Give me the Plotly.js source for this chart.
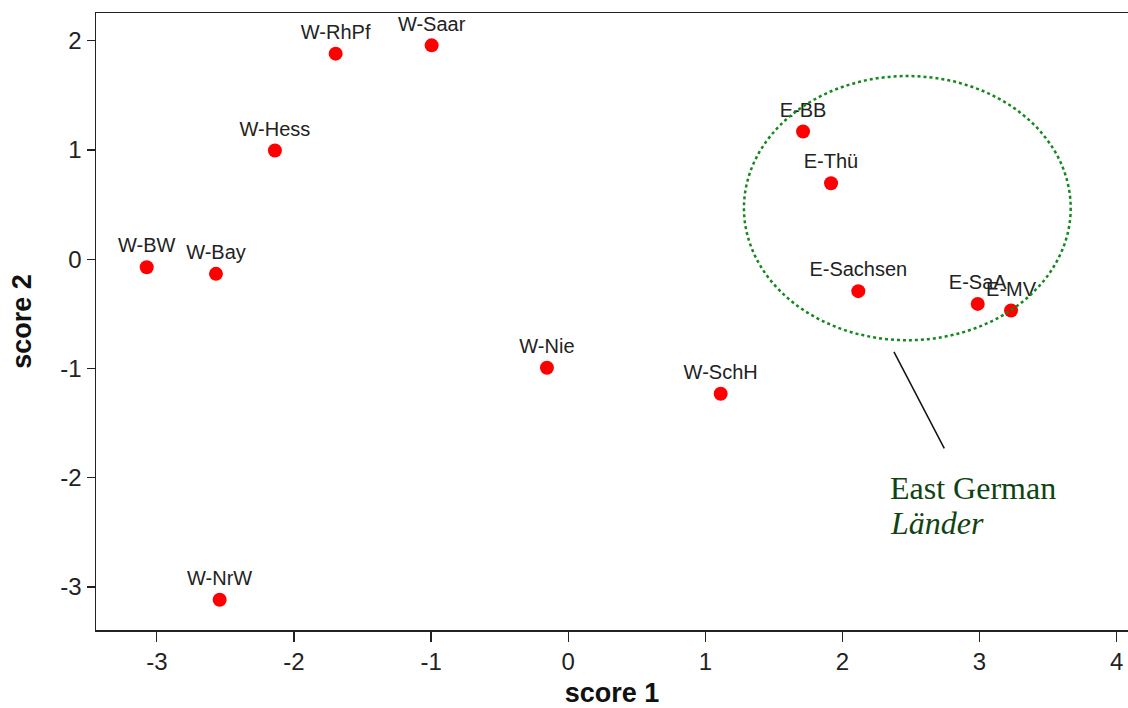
<!DOCTYPE html>
<html>
<head>
<meta charset="utf-8">
<script src="https://cdn.plot.ly/plotly-3.0.1.min.js"></script>
<style>
html,body{margin:0;padding:0;background:#fff;}
#chart{width:1128px;height:708px;}
</style>
</head>
<body>
<div id="chart"></div>
<script>
// Data
const labels = ["W-RhPf","W-Saar","W-Hess","W-BW","W-Bay","W-NrW","W-Nie","W-SchH","E-BB","E-Thü","E-Sachsen","E-SaA","E-MV"];
const score1 = [-1.696,-0.996,-2.139,-3.074,-2.569,-2.542,-0.155,1.112,1.713,1.917,2.116,2.987,3.230];
const score2 = [1.882,1.958,0.995,-0.073,-0.134,-3.117,-0.994,-1.232,1.169,0.696,-0.292,-0.409,-0.469];
const xTicks = [-3,-2,-1,0,1,2,3,4];
const yTicks = [-3,-2,-1,0,1,2];
const noteLine1 = "East German";
const noteLine2 = "Länder";

const trace = {
  type: "scatter",
  mode: "markers+text",
  x: score1,
  y: score2,
  text: labels,
  textposition: "top center",
  textfont: {family: "Liberation Sans, Arial, sans-serif", size: 20, color: "#222"},
  marker: {color: "#ff0000", size: 14, line: {width: 0}},
  hoverinfo: "text",
  cliponaxis: false
};

const layout = {
  width: 1128,
  height: 708,
  margin: {l: 96, r: 0, t: 13, b: 78},
  paper_bgcolor: "#ffffff",
  plot_bgcolor: "#ffffff",
  showlegend: false,
  font: {family: "Liberation Sans, Arial, sans-serif", color: "#222"},
  xaxis: {
    range: [-3.444, 4.083],
    tickvals: xTicks,
    ticktext: xTicks.map(String),
    showgrid: false,
    zeroline: false,
    showline: true,
    linecolor: "#222",
    linewidth: 1.5,
    mirror: true,
    ticks: "outside",
    ticklen: 10,
    tickwidth: 1.2,
    tickcolor: "#222",
    tickfont: {size: 24, color: "#222"},
    title: {text: "score 1", font: {size: 27, color: "#111", weight: "bold"}, standoff: 11}
  },
  yaxis: {
    range: [-3.394, 2.254],
    tickvals: yTicks,
    ticktext: yTicks.map(String),
    showgrid: false,
    zeroline: false,
    showline: true,
    linecolor: "#222",
    linewidth: 1.5,
    ticks: "outside",
    ticklen: 8,
    tickwidth: 1.2,
    tickcolor: "#222",
    tickfont: {size: 24, color: "#222"},
    title: {text: "score 2", font: {size: 27, color: "#111", weight: "bold"}, standoff: 21}
  },
  shapes: [
    {type: "circle", xref: "x", yref: "y", x0: 1.282, x1: 3.665, y0: -0.741, y1: 1.677,
     line: {color: "#14881c", width: 2.5, dash: "dot"}, layer: "above"},
    {type: "line", xref: "x", yref: "y", x0: 2.376, y0: -0.848, x1: 2.743, y1: -1.731,
     line: {color: "#111", width: 1.5}}
  ],
  annotations: [
    {xref: "x", yref: "y", x: 2.335, y: -2.095, xanchor: "left", yanchor: "middle", showarrow: false,
     text: noteLine1, font: {family: "Liberation Serif, Times New Roman, serif", size: 32, color: "#0f4412"}},
    {xref: "x", yref: "y", x: 2.335, y: -2.415, xanchor: "left", yanchor: "middle", showarrow: false,
     text: "<i>" + noteLine2 + "</i>", font: {family: "Liberation Serif, Times New Roman, serif", size: 32, color: "#0f4412"}}
  ]
};

Plotly.newPlot("chart", [trace], layout, {displayModeBar: false, staticPlot: true});
</script>
</body>
</html>
